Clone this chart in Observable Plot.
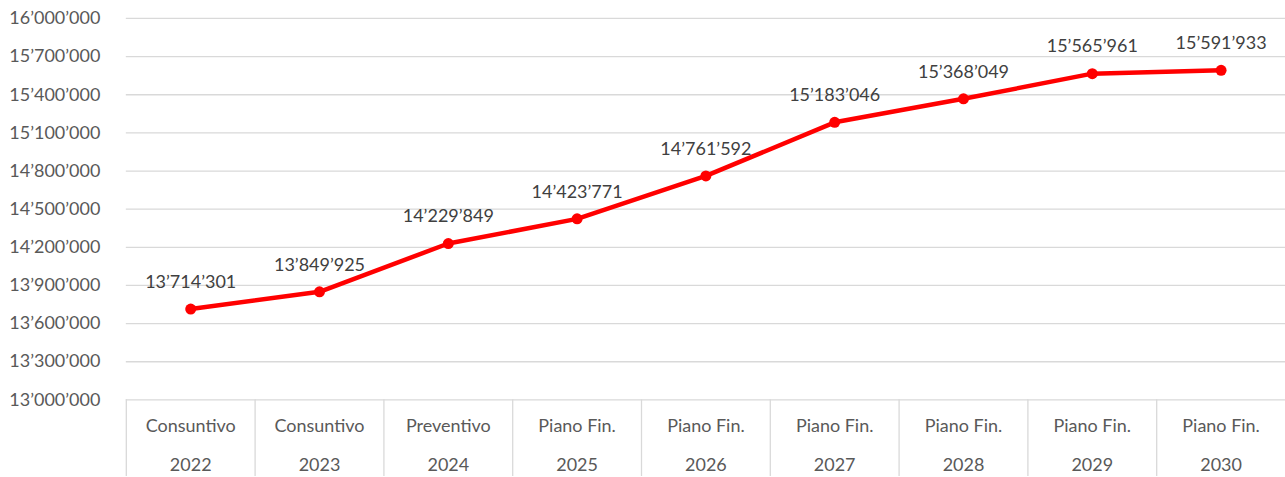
<!DOCTYPE html>
<html>
<head>
<meta charset="utf-8">
<script src="https://cdn.jsdelivr.net/npm/d3@7"></script>
<script src="https://cdn.jsdelivr.net/npm/@observablehq/plot@0.6"></script>
<style>
  html, body { margin: 0; padding: 0; background: #fff; overflow: hidden; }
  #chart svg { display: block; }
</style>
</head>
<body>
<div id="chart"></div>
<script>
const categories = ["Consuntivo 2022", "Consuntivo 2023", "Preventivo 2024", "Piano Fin. 2025", "Piano Fin. 2026", "Piano Fin. 2027", "Piano Fin. 2028", "Piano Fin. 2029", "Piano Fin. 2030"];
const labelTop = ["Consuntivo", "Consuntivo", "Preventivo", "Piano Fin.", "Piano Fin.", "Piano Fin.", "Piano Fin.", "Piano Fin.", "Piano Fin."];
const labelYear = ["2022", "2023", "2024", "2025", "2026", "2027", "2028", "2029", "2030"];
const values = [13714301, 13849925, 14229849, 14423771, 14761592, 15183046, 15368049, 15565961, 15591933];
const yTicks = [13000000, 13300000, 13600000, 13900000, 14200000, 14500000, 14800000, 15100000, 15400000, 15700000, 16000000];

const data = categories.map((c, i) => ({cat: c, value: values[i]}));
const fmt = d3.formatLocale({decimal: ".", thousands: "\u2019", grouping: [3], currency: ["", ""]}).format(",");

const W = 1287, H = 477, ML = 126, MR = 0, MT = 18, MB = 77;
const bw = (W - ML - MR) / categories.length;
const font = "Lato, 'Open Sans', sans-serif";

const chart = Plot.plot({
  width: W,
  height: H,
  marginLeft: ML,
  marginRight: MR,
  marginTop: MT,
  marginBottom: MB,
  style: {fontFamily: font, fontSize: "18px", color: "#595959", background: "#fff"},
  x: {type: "band", domain: categories, padding: 0, round: false, axis: null},
  y: {domain: [13000000, 16000000], ticks: yTicks, axis: null},
  marks: [
    Plot.ruleY(yTicks, {y: d => d, stroke: "#d9d9d9", strokeWidth: 1.3}),
    Plot.ruleX(categories, {x: d => d, dx: -bw / 2, stroke: "#d9d9d9", strokeWidth: 1.3, insetTop: H - MT - MB, insetBottom: -MB}),
    Plot.axisY({ticks: yTicks, tickSize: 0, tickPadding: 26, tickFormat: fmt, fontSize: 18, fill: "#595959", label: null}),
    Plot.text(categories, {x: d => d, frameAnchor: "bottom", dy: 32, text: (d, i) => labelTop[i], fill: "#595959", fontSize: 18}),
    Plot.text(categories, {x: d => d, frameAnchor: "bottom", dy: 71, text: (d, i) => labelYear[i], fill: "#595959", fontSize: 18}),
    Plot.line(data, {x: "cat", y: "value", stroke: "#ff0000", strokeWidth: 4.5}),
    Plot.dot(data, {x: "cat", y: "value", r: 5.5, fill: "#ff0000", stroke: "none"}),
    Plot.text(data, {x: "cat", y: "value", text: d => fmt(d.value), dy: -27, fill: "#404040", fontSize: 18})
  ]
});
document.getElementById("chart").appendChild(chart);
</script>
</body>
</html>
